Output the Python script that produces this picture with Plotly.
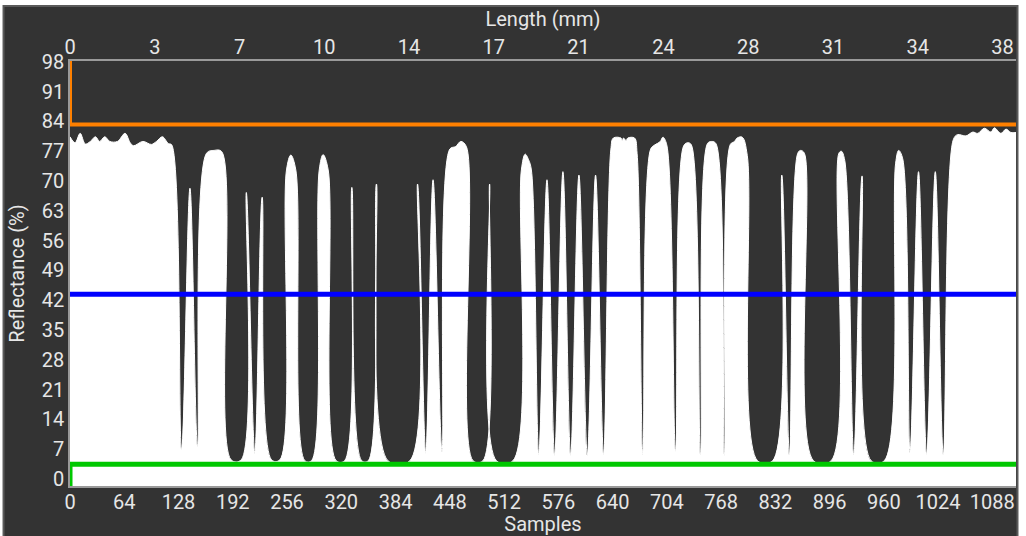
import plotly.graph_objects as go

# ---- data ----
samples = [
    0, 6, 12, 18, 24, 30, 35, 41, 47, 56, 65, 71, 75, 86, 96, 102, 109, 116, 120,
    131.6, 141.5, 150.5,
    161, 170, 179,
    190, 202,
    208, 218, 226.7,
    237.7, 247.6,
    255.4, 260.5, 266.4,
    277, 285,
    294, 298.6, 304.6,
    314, 324,
    332.5,
    344, 352,
    361.5,
    375, 401,
    410, 419.7, 428.3, 438.9,
    448, 455, 461, 467.6,
    475.4, 487.2,
    495,
    503, 522.6,
    532.5, 537, 541, 544.3,
    553, 562.7, 571.7, 581.5, 590.6, 600.4, 610.3, 620, 629.5,
    638, 641, 650, 651.5, 653, 656, 658, 666, 669,
    675.8,
    685, 690, 696, 699.5, 704,
    714.4,
    724, 729, 733,
    743.8,
    752, 757, 762,
    772,
    779, 784, 787, 793, 799,
    811, 829,
    839.7, 848.8,
    858.5, 862, 866.4,
    877, 898,
    907, 910, 914,
    924.6, 934.4,
    945, 960.7,
    974, 977.6, 982.4,
    991, 1001, 1010.6, 1020.8, 1030.3,
    1042, 1047, 1057, 1065, 1071, 1078.6, 1086.5, 1090.4, 1098.3, 1104.2, 1110, 1116,
]
reflectance = [
    80.4, 79.0, 81.2, 78.7, 79.3, 80.4, 79.3, 80.4, 79.3, 79.3, 81.2, 79.0, 78.3, 79.3, 78.6, 79.3, 80.4, 78.8, 78.5,
    6.8, 68.3, 7.6,
    76.5, 77.2, 76.9,
    4.5, 4.5,
    67.3, 6.0, 66.2,
    4.5, 4.5,
    72.6, 76.1, 72.6,
    4.3, 4.3,
    72.6, 76.2, 72.6,
    4.3, 4.3,
    68.5,
    4.3, 4.3,
    69.3,
    4.3, 4.3,
    69.3, 6.0, 70.3, 6.4,
    77.5, 78.1, 79.3, 78.1,
    4.3, 4.3,
    69.3,
    4.3, 4.3,
    72.6, 76.3, 75.0, 72.6,
    5.6, 70.3, 5.6, 72.2, 5.6, 71.4, 5.6, 71.4, 5.6,
    77.3, 80.1, 80.1, 79.4, 80.1, 79.5, 80.1, 80.1, 76.5,
    5.6,
    77.5, 78.5, 79.2, 80.3, 78.5,
    6.4,
    78.3, 79.0, 78.5,
    5.6,
    78.8, 79.3, 78.8,
    5.6,
    78.6, 79.3, 80.1, 80.3, 76.0,
    4.3, 4.3,
    71.4, 5.6,
    76.5, 77.2, 76.5,
    4.3, 4.3,
    76.5, 77.0, 74.8,
    5.6, 71.2,
    4.3, 4.3,
    74.2, 77.2, 75.2,
    6.2, 72.2, 5.6, 72.2, 5.6,
    79.7, 80.9, 80.6, 81.5, 81.2, 82.4, 81.5, 82.5, 81.2, 82.2, 81.4, 81.4,
]

sample_ticks = list(range(0, 1089, 64))
length_tick_samples = list(range(0, 1101, 100))
length_tick_labels = ["0", "3", "7", "10", "14", "17", "21", "24", "28", "31", "34", "38"]
reflectance_ticks = list(range(0, 99, 7))

upper_threshold = 83.3
mid_threshold = 43.4
lower_threshold = 3.45
x_max = 1116
y_min, y_max = -1.65, 98.2

# ---- styling ----
DARK = "#333333"
TXT = "#e6e6e6"
AXL = "#9a9a9a"
FONT = "Roboto"
FS = 20

W, H = 1026, 536
ML, MR, MT, MB = 70, 9.5, 61, 50
pw = W - ML - MR
ph = H - MT - MB

fig = go.Figure()

# invisible baseline so the white area reaches the bottom of the plot
fig.add_trace(go.Scatter(x=[0, x_max], y=[y_min, y_min], mode="lines",
                         line=dict(width=0, color=DARK), hoverinfo="skip", showlegend=False))
fig.add_trace(go.Scatter(x=samples, y=reflectance, mode="lines",
                         line=dict(color="white", width=1, shape="spline", smoothing=1),
                         fill="tonexty", fillcolor="white", showlegend=False))
fig.add_trace(go.Scatter(x=[0, 0, x_max], y=[y_max + 5, upper_threshold, upper_threshold],
                         mode="lines", line=dict(color="#ff8000", width=4), showlegend=False))
fig.add_trace(go.Scatter(x=[0, x_max], y=[mid_threshold, mid_threshold], xaxis="x2",
                         mode="lines", line=dict(color="#0000ff", width=5), showlegend=False))
fig.add_trace(go.Scatter(x=[0, 0, x_max], y=[y_min - 5, lower_threshold, lower_threshold],
                         mode="lines", line=dict(color="#00c800", width=5), showlegend=False))

axis_common = dict(showgrid=False, zeroline=False, showline=True, linecolor=AXL, linewidth=1.5,
                   ticks="", automargin=False, tickfont=dict(family=FONT, size=FS, color=TXT))

fig.update_layout(
    width=W, height=H,
    margin=dict(l=ML, r=MR, t=MT, b=MB, pad=0, autoexpand=False),
    paper_bgcolor="white", plot_bgcolor=DARK,
    font=dict(family=FONT, size=FS, color=TXT),
    xaxis=dict(range=[0, x_max], tickvals=sample_ticks, ticklabelstandoff=-3,
               title=dict(text="Samples", font=dict(family=FONT, size=FS, color=TXT), standoff=16),
               **axis_common),
    xaxis2=dict(range=[0, x_max], overlaying="x", side="top", anchor="y",
                tickvals=length_tick_samples, ticktext=length_tick_labels, ticklabelstandoff=-3,
                title=dict(text="Length (mm)", font=dict(family=FONT, size=FS, color=TXT), standoff=3),
                **axis_common),
    yaxis=dict(range=[y_min, y_max], tickvals=reflectance_ticks, ticklabelstandoff=0,
               title=dict(text="Reflectance (%)", font=dict(family=FONT, size=FS, color=TXT), standoff=12),
               **axis_common),
    shapes=[dict(type="rect", xref="paper", yref="paper", layer="below",
                 x0=(3.5 - ML) / pw, x1=(1018 - ML) / pw,
                 y0=-0.3, y1=(H - MB - 6) / ph,
                 fillcolor=DARK, line=dict(color="#5a5a5a", width=2))],
)

fig.write_html("out.html", config={"displayModeBar": False},
               post_script="document.body.style.margin='0';")
